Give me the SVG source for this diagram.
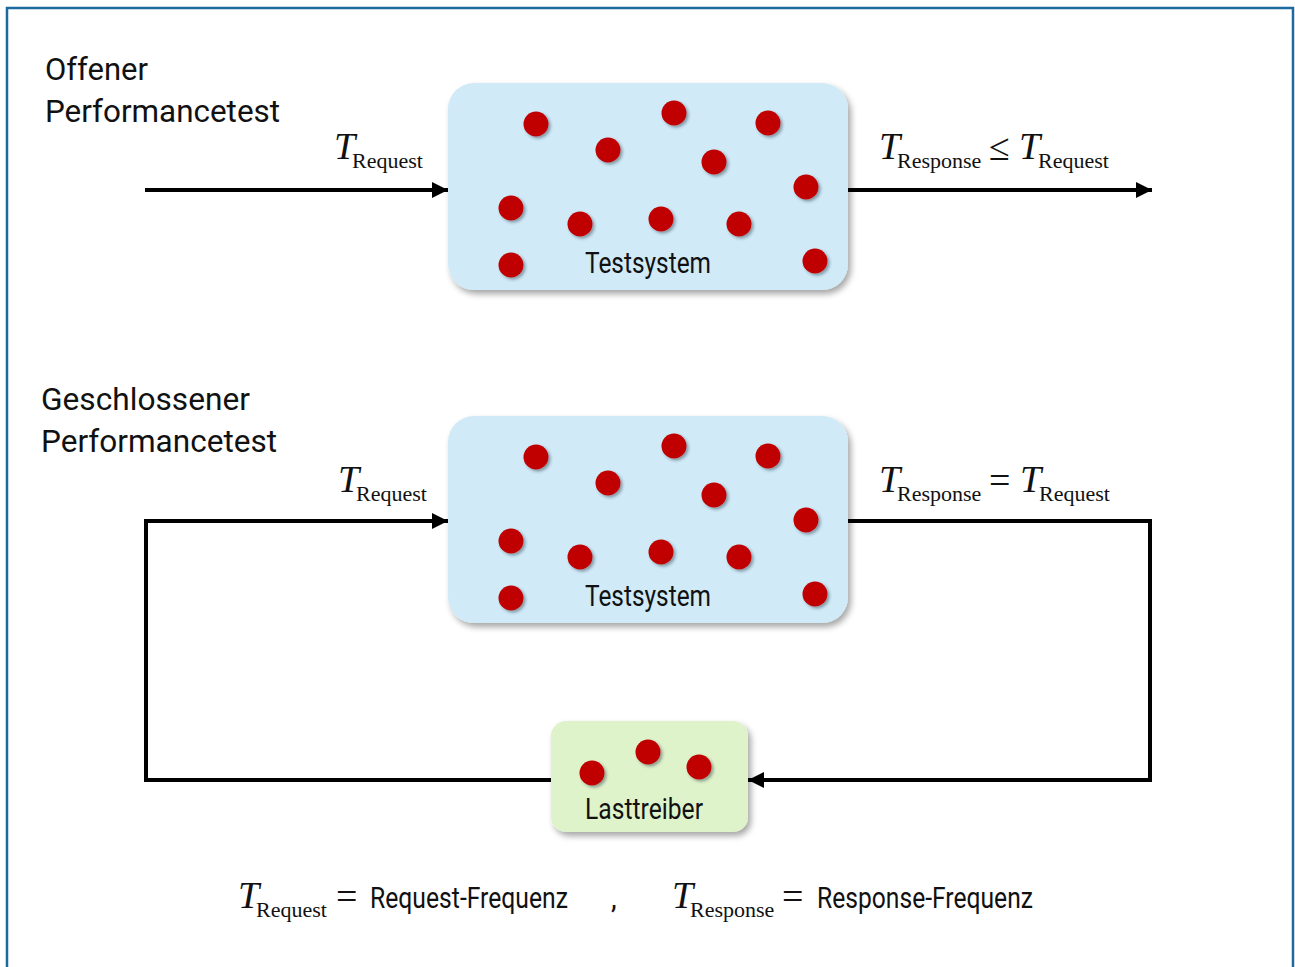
<svg xmlns="http://www.w3.org/2000/svg" width="1295" height="967" viewBox="0 0 1295 967">
<style>
.ttl{font-family:Roboto,"Liberation Sans",sans-serif;font-size:32px;fill:#111}
.lbl{font-family:Roboto,"Liberation Sans",sans-serif;font-size:29px;fill:#111}
.mT{font-family:"Liberation Serif",serif;font-style:italic;font-size:38px;fill:#111}
.sub{font-family:"Liberation Serif",serif;font-size:22px;fill:#111}
.op{font-family:"Liberation Serif",serif;font-size:38px;fill:#111}
.con{fill:none;stroke:#000;stroke-width:4}
.sys{fill:#d0eaf8}
.drv{fill:#dff3cb}
.dot{fill:#c00000}
</style>
<defs>
<filter id="bsh" x="-10%" y="-10%" width="125%" height="130%">
<feDropShadow dx="3" dy="4" stdDeviation="3" flood-color="#000" flood-opacity="0.35"/>
</filter>
<filter id="dsh" x="-50%" y="-50%" width="200%" height="200%">
<feDropShadow dx="2" dy="2" stdDeviation="1.5" flood-color="#203040" flood-opacity="0.45"/>
</filter>
<marker id="ah" viewBox="0 0 10 10" refX="10" refY="5" markerWidth="4" markerHeight="4" markerUnits="strokeWidth" orient="auto">
<path d="M0,0 L10,5 L0,10 z" fill="#000"/>
</marker>
<g id="dots12">
<circle cx="536" cy="124" r="12.5"/>
<circle cx="608" cy="150" r="12.5"/>
<circle cx="674" cy="113" r="12.5"/>
<circle cx="768" cy="123" r="12.5"/>
<circle cx="714" cy="162" r="12.5"/>
<circle cx="806" cy="187" r="12.5"/>
<circle cx="511" cy="208" r="12.5"/>
<circle cx="580" cy="224" r="12.5"/>
<circle cx="661" cy="219" r="12.5"/>
<circle cx="739" cy="224" r="12.5"/>
<circle cx="511" cy="265" r="12.5"/>
<circle cx="815" cy="261" r="12.5"/>
</g>
</defs>
<rect x="0" y="0" width="1295" height="967" fill="#fff"/>
<path d="M7,967 V8 H1293 V967" fill="none" stroke="#1b6aa0" stroke-width="2.5"/>

<g id="titles">
<text class="ttl" x="45" y="80" textLength="103" lengthAdjust="spacingAndGlyphs">Offener</text>
<text class="ttl" x="45" y="122" textLength="235" lengthAdjust="spacingAndGlyphs">Performancetest</text>
<text class="ttl" x="41" y="410" textLength="209" lengthAdjust="spacingAndGlyphs">Geschlossener</text>
<text class="ttl" x="41" y="452" textLength="236" lengthAdjust="spacingAndGlyphs">Performancetest</text>
</g>

<g id="connectors">
<line class="con" x1="145" y1="190" x2="448" y2="190" marker-end="url(#ah)"/>
<line class="con" x1="848" y1="190" x2="1152" y2="190" marker-end="url(#ah)"/>
<path class="con" d="M551,780 H146 V521 H448" marker-end="url(#ah)"/>
<path class="con" d="M848,521 H1150 V780 H748" marker-end="url(#ah)"/>
</g>

<g id="testsystem1">
<rect class="sys" x="448" y="83" width="400" height="207" rx="26" filter="url(#bsh)"/>
<use href="#dots12" class="dot" filter="url(#dsh)"/>
<text class="lbl" x="648" y="273" text-anchor="middle" textLength="126" lengthAdjust="spacingAndGlyphs">Testsystem</text>
</g>

<g id="testsystem2">
<rect class="sys" x="448" y="416" width="400" height="207" rx="26" filter="url(#bsh)"/>
<use href="#dots12" class="dot" y="333" filter="url(#dsh)"/>
<text class="lbl" x="648" y="606" text-anchor="middle" textLength="126" lengthAdjust="spacingAndGlyphs">Testsystem</text>
</g>

<g id="lasttreiber">
<rect class="drv" x="551" y="721" width="197" height="111" rx="15" filter="url(#bsh)"/>
<g class="dot" filter="url(#dsh)">
<circle cx="592" cy="773" r="12.5"/>
<circle cx="648" cy="752" r="12.5"/>
<circle cx="699" cy="767" r="12.5"/>
</g>
<text class="lbl" x="585" y="819" textLength="118" lengthAdjust="spacingAndGlyphs">Lasttreiber</text>
</g>

<g id="labels-open">
<text class="mT" x="334" y="159">T</text>
<text class="sub" x="352" y="168">Request</text>
<text class="mT" x="879" y="159">T</text>
<text class="sub" x="897" y="168">Response</text>
<text class="op" x="989" y="160">≤</text>
<text class="mT" x="1019" y="159">T</text>
<text class="sub" x="1038" y="168">Request</text>
</g>

<g id="labels-closed">
<text class="mT" x="338" y="492">T</text>
<text class="sub" x="356" y="501">Request</text>
<text class="mT" x="879" y="492">T</text>
<text class="sub" x="897" y="501">Response</text>
<text class="op" x="989" y="493">=</text>
<text class="mT" x="1020" y="492">T</text>
<text class="sub" x="1039" y="501">Request</text>
</g>

<g id="legend">
<text class="mT" x="238" y="908">T</text>
<text class="sub" x="256" y="917">Request</text>
<text class="op" x="336" y="909">=</text>
<text class="lbl" x="370" y="908" textLength="198" lengthAdjust="spacingAndGlyphs">Request-Frequenz</text>
<text class="lbl" x="611" y="908">,</text>
<text class="mT" x="672" y="908">T</text>
<text class="sub" x="690" y="917">Response</text>
<text class="op" x="782" y="909">=</text>
<text class="lbl" x="817" y="908" textLength="216" lengthAdjust="spacingAndGlyphs">Response-Frequenz</text>
</g>
</svg>
